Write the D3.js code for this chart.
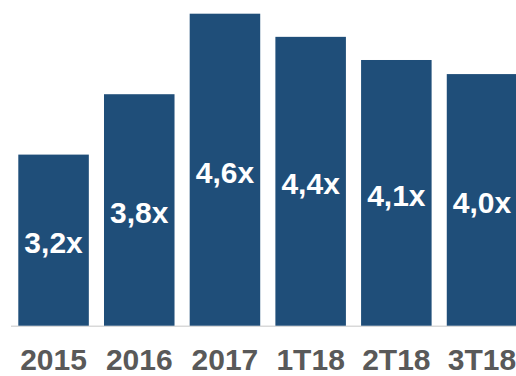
<!DOCTYPE html>
<html>
<head>
<meta charset="utf-8">
<script src="https://cdn.jsdelivr.net/npm/d3@7"></script>
<style>
  body { margin: 0; background: #fff; }
  svg { display: block; }
</style>
</head>
<body>
<script>
var svgWidth = 516;
var svgHeight = 376;

var categories = ['2015', '2016', '2017', '1T18', '2T18', '3T18'];
var values = [3.2, 3.8, 4.6, 4.37, 4.14, 4.0];
var labels = ['3,2x', '3,8x', '4,6x', '4,4x', '4,1x', '4,0x'];

var data = categories.map(function(c, i){
	return {cat: c, value: values[i], label: labels[i]};
});

var svg = d3.select('body').append('svg')
	.attr('width', svgWidth)
	.attr('height', svgHeight);

var x = d3.scaleBand()
	.domain(categories)
	.range([18.3, 517.3])
	.paddingInner(0.177)
	.paddingOuter(0);

// axis doesn't start at zero in the original
var y = d3.scaleLinear()
	.domain([1.5, 4.6])
	.range([325.7, 13.7]);

svg.append('line')
	.attr('x1', 11)
	.attr('x2', svgWidth)
	.attr('y1', y(1.5) + 0.5)
	.attr('y2', y(1.5) + 0.5)
	.attr('stroke', '#d9d9d9')
	.attr('stroke-width', 1.5);

svg.selectAll('rect.bar').data(data)
	.enter().append('rect')
		.attr('class', 'bar')
		.attr('x', function(d){ return x(d.cat); })
		.attr('y', function(d){ return y(d.value); })
		.attr('width', x.bandwidth())
		.attr('height', function(d){ return y(1.5) - y(d.value); })
		.attr('fill', '#1f4e79');

svg.selectAll('text.val').data(data)
	.enter().append('text')
		.attr('class', 'val')
		.attr('x', function(d){ return x(d.cat) + x.bandwidth()/2; })
		.attr('y', function(d){ return (y(d.value) + y(1.5))/2 + 13; })
		.attr('text-anchor', 'middle')
		.attr('fill', '#fff')
		.attr('font-family', 'Liberation Sans, Arial, sans-serif')
		.attr('font-weight', 'bold')
		.attr('font-size', 30)
		.text(function(d){ return d.label; });

svg.selectAll('text.cat').data(data)
	.enter().append('text')
		.attr('class', 'cat')
		.attr('x', function(d){ return x(d.cat) + x.bandwidth()/2; })
		.attr('y', 369.5)
		.attr('text-anchor', 'middle')
		.attr('fill', '#595959')
		.attr('font-family', 'Liberation Sans, Arial, sans-serif')
		.attr('font-weight', 'bold')
		.attr('font-size', 30)
		.text(function(d){ return d.cat; });
</script>
</body>
</html>
